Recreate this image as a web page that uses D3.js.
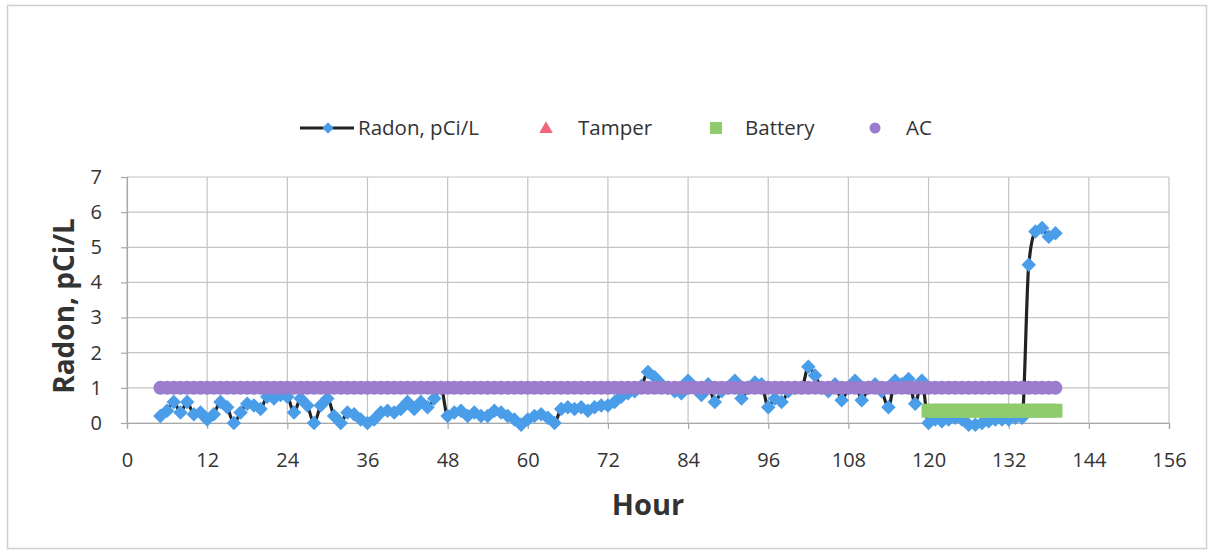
<!DOCTYPE html>
<html><head><meta charset="utf-8">
<script src="https://cdn.jsdelivr.net/npm/d3@7"></script>
<style>body{margin:0;background:#fff;}svg{display:block;}</style>
</head><body>
<svg id="c" width="1215" height="554"></svg>
<script>
const hours = d3.range(5, 140);
const radon = [
0.2,0.35,0.6,0.3,0.6,0.25,0.3,0.1,0.25,0.6,
0.45,0.0,0.3,0.55,0.5,0.4,0.75,0.7,0.8,0.75,
0.3,0.7,0.5,0.0,0.5,0.7,0.2,0.0,0.3,0.25,
0.1,0.0,0.1,0.3,0.35,0.3,0.4,0.6,0.4,0.6,
0.45,0.7,1.0,0.2,0.3,0.35,0.2,0.3,0.2,0.2,
0.35,0.3,0.2,0.1,-0.05,0.1,0.2,0.25,0.15,0.0,
0.4,0.45,0.4,0.45,0.35,0.45,0.5,0.5,0.6,0.75,
0.85,0.9,1.05,1.45,1.3,1.1,1.0,0.9,0.85,1.2,
1.0,0.8,1.1,0.6,0.9,1.0,1.2,0.7,1.0,1.15,
1.1,0.45,0.7,0.6,0.9,1.0,1.0,1.6,1.35,1.0,
0.9,1.1,0.65,1.0,1.2,0.65,1.0,1.1,0.9,0.45,
1.2,1.1,1.25,0.55,1.2,0.0,0.1,0.05,0.1,0.15,
0.1,-0.05,-0.05,0.0,0.05,0.1,0.1,0.1,0.15,0.15,
4.5,5.45,5.55,5.3,5.4];
const tamperHours = [];
const tamper = [];
const batteryHours = d3.range(120, 140);
const battery = batteryHours.map(() => 0.35);
const acHours = d3.range(5, 140);
const ac = acHours.map(() => 1);
const xTicks = [0,12,24,36,48,60,72,84,96,108,120,132,144,156];
const yTicks = [0,1,2,3,4,5,6,7];
const legendLabels = ["Radon, pCi/L","Tamper","Battery","AC"];

const svg = d3.select("#c");
const font = "'Open Sans', 'Liberation Sans', sans-serif";
svg.append("rect").attr("x",7.5).attr("y",5.5).attr("width",1199).attr("height",543)
  .attr("fill","#fff").attr("stroke","#cfcfcf").attr("stroke-width",1.5);

const L=127, R=1169, T=177, B=423;
const x = d3.scaleLinear().domain([0,156]).range([L,R]);
const y = d3.scaleLinear().domain([0,7]).range([B,T]);

// gridlines
const g = svg.append("g");
g.selectAll(".hg").data(yTicks).join("line")
  .attr("x1",L).attr("x2",R).attr("y1",d=>y(d)).attr("y2",d=>y(d))
  .attr("stroke","#c4c4c4").attr("stroke-width",1.2);
g.selectAll(".vg").data(xTicks).join("line")
  .attr("y1",T).attr("y2",B).attr("x1",d=>x(d)).attr("x2",d=>x(d))
  .attr("stroke","#c4c4c4").attr("stroke-width",1.2);

// axes
const xAxis = d3.axisBottom(x).tickValues(xTicks).tickFormat(d3.format("d")).tickSize(6).tickPadding(24);
const yAxis = d3.axisLeft(y).tickValues(yTicks).tickFormat(d3.format("d")).tickSize(6).tickPadding(19);
const gx = svg.append("g").attr("transform",`translate(0,${B})`).call(xAxis);
const gy = svg.append("g").attr("transform",`translate(${L},0)`).call(yAxis);
[gx,gy].forEach(a=>{
  a.select(".domain").attr("stroke","#a8a8a8").attr("stroke-width",1.2);
  a.selectAll(".tick line").attr("stroke","#a8a8a8").attr("stroke-width",1.2);
  a.selectAll("text").attr("font-family",font).attr("font-size",20).attr("fill","#333");
});

// titles
svg.append("text").attr("x",648).attr("y",515).attr("text-anchor","middle")
  .attr("font-family",font).attr("font-weight","bold").attr("font-size",29).attr("fill","#333").text("Hour");
svg.append("text").attr("transform","translate(74,306) rotate(-90)").attr("text-anchor","middle")
  .attr("font-family",font).attr("font-weight","bold").attr("font-size",28).attr("fill","#333").text("Radon, pCi/L");

// radon line
const rd = hours.map((h,i)=>({h,v:radon[i]}));
const line = d3.line().x(d=>x(d.h)).y(d=>y(d.v)).curve(d3.curveMonotoneX);
svg.append("path").datum(rd).attr("d",line).attr("fill","none")
  .attr("stroke","#222").attr("stroke-width",3.2);
const diamond = d3.symbol().type(d3.symbolSquare).size(105);
svg.selectAll(".rd").data(rd).join("path")
  .attr("d",diamond).attr("transform",d=>`translate(${x(d.h)},${y(d.v)}) rotate(45)`)
  .attr("fill","#4a9de8");

// tamper
svg.selectAll(".tp").data(tamperHours.map((h,i)=>({h,v:tamper[i]}))).join("path")
  .attr("d",d3.symbol().type(d3.symbolTriangle).size(90))
  .attr("transform",d=>`translate(${x(d.h)},${y(d.v)})`).attr("fill","#f0667a");

// battery
svg.selectAll(".bt").data(batteryHours.map((h,i)=>({h,v:battery[i]}))).join("rect")
  .attr("x",d=>x(d.h)-7).attr("y",d=>y(d.v)-7).attr("width",14).attr("height",14)
  .attr("fill","#8fcc6e");

// AC
svg.selectAll(".ac").data(acHours.map((h,i)=>({h,v:ac[i]}))).join("circle")
  .attr("cx",d=>x(d.h)).attr("cy",d=>y(d.v)).attr("r",7).attr("fill","#9a7dcd");

// legend
const ly = 128;
const lg = svg.append("g");
lg.append("line").attr("x1",300).attr("x2",354).attr("y1",ly).attr("y2",ly).attr("stroke","#222").attr("stroke-width",3.2);
lg.append("path").attr("d",d3.symbol().type(d3.symbolSquare).size(64)).attr("transform",`translate(328,${ly}) rotate(45)`).attr("fill","#4a9de8");
lg.append("path").attr("d",d3.symbol().type(d3.symbolTriangle).size(80)).attr("transform",`translate(546,${ly+1})`).attr("fill","#f0667a");
lg.append("rect").attr("x",710).attr("y",ly-6).attr("width",12).attr("height",12).attr("fill","#8fcc6e");
lg.append("circle").attr("cx",875).attr("cy",ly).attr("r",5.5).attr("fill","#9a7dcd");
const lx = [358,578,745,906];
lg.selectAll(".lt").data(legendLabels).join("text")
  .attr("x",(d,i)=>lx[i]).attr("y",ly+7).attr("font-family",font).attr("font-size",20.5).attr("fill","#333").text(d=>d);
</script>
</body></html>
